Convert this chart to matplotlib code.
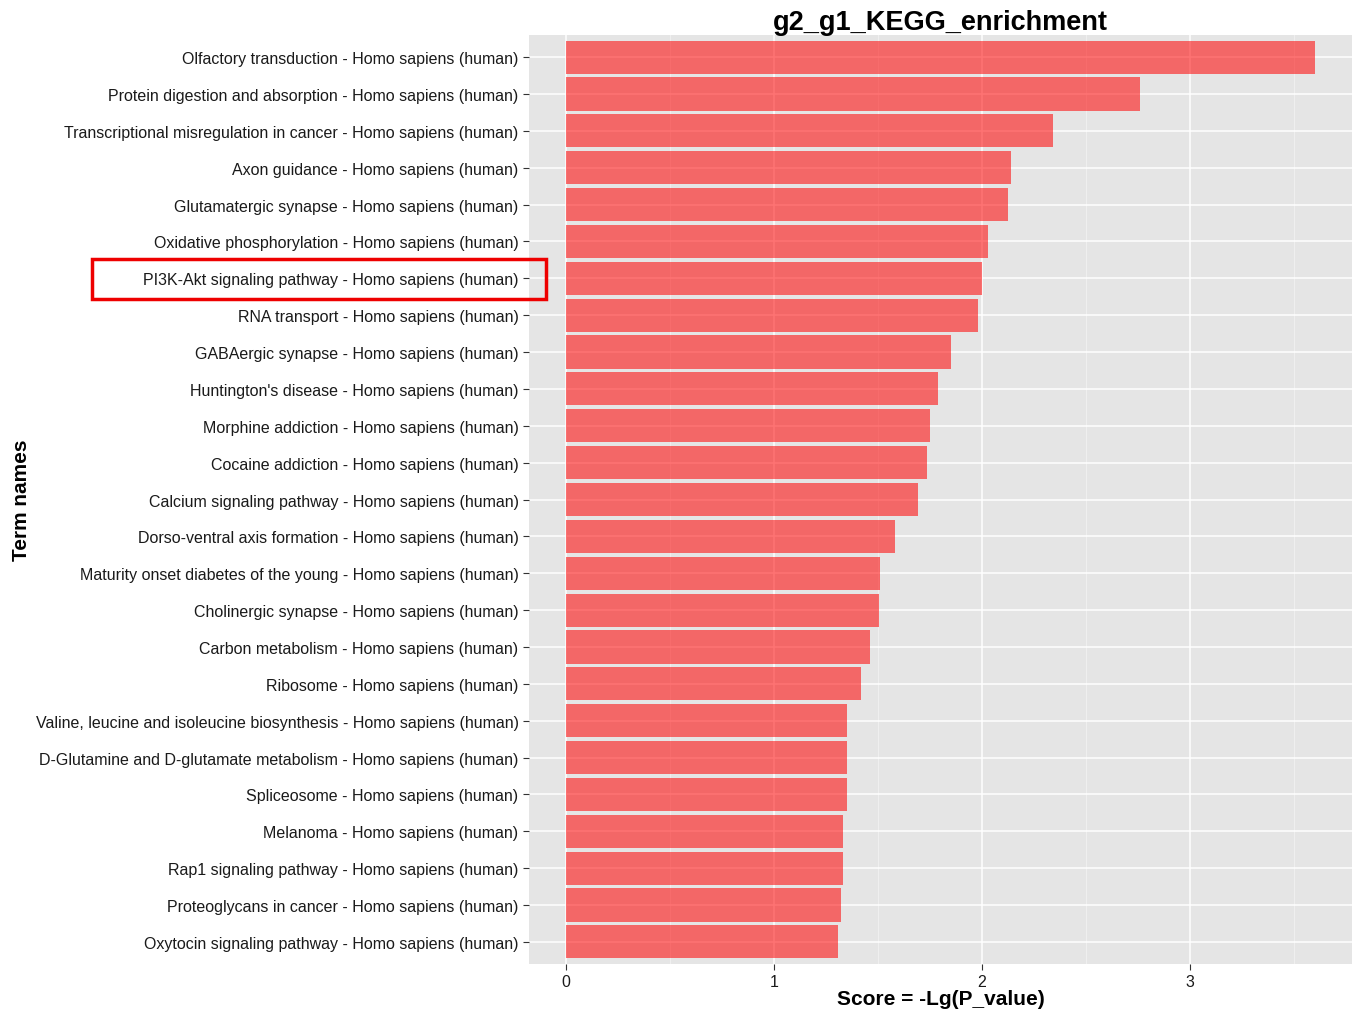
import matplotlib
matplotlib.use("Agg")
import matplotlib.pyplot as plt
from matplotlib.patches import Rectangle

terms = [
    "Olfactory transduction",
    "Protein digestion and absorption",
    "Transcriptional misregulation in cancer",
    "Axon guidance",
    "Glutamatergic synapse",
    "Oxidative phosphorylation",
    "PI3K-Akt signaling pathway",
    "RNA transport",
    "GABAergic synapse",
    "Huntington's disease",
    "Morphine addiction",
    "Cocaine addiction",
    "Calcium signaling pathway",
    "Dorso-ventral axis formation",
    "Maturity onset diabetes of the young",
    "Cholinergic synapse",
    "Carbon metabolism",
    "Ribosome",
    "Valine, leucine and isoleucine biosynthesis",
    "D-Glutamine and D-glutamate metabolism",
    "Spliceosome",
    "Melanoma",
    "Rap1 signaling pathway",
    "Proteoglycans in cancer",
    "Oxytocin signaling pathway",
]
species = " - Homo sapiens (human)"
scores = [3.60, 2.76, 2.34, 2.14, 2.125, 2.03, 2.00, 1.98, 1.85, 1.79,
          1.75, 1.735, 1.69, 1.58, 1.51, 1.505, 1.46, 1.42, 1.35, 1.35,
          1.35, 1.33, 1.33, 1.32, 1.31]
x_ticks = [0, 1, 2, 3]

plt.rcParams["font.family"] = ["Liberation Sans", "DejaVu Sans"]

W, H = 1357, 1012
fig = plt.figure(figsize=(W / 100, H / 100), dpi=100)
left, right, top, bottom = 529, 1352, 36, 965
ax = fig.add_axes([left / W, 1 - bottom / H, (right - left) / W, (bottom - top) / H])
ax.set_facecolor("#E5E5E5")

n = len(terms)
ypos = list(range(n, 0, -1))
ax.barh(ypos, scores, height=0.9, color="#FF0000", alpha=0.55, zorder=3, linewidth=0)

ax.set_xlim(-0.178, 3.779)
ax.set_ylim(0.4, n + 0.6)

ax.set_xticks(x_ticks)
ax.set_xticklabels([str(t) for t in x_ticks])
ax.set_xticks([0.5, 1.5, 2.5, 3.5], minor=True)
ax.set_yticks(ypos)
ax.set_yticklabels([t + species for t in terms])

ax.grid(True, which="major", color="white", linewidth=1.1, zorder=1)
ax.grid(True, which="minor", axis="x", color="#F2F2F2", linewidth=0.6, zorder=1)
ax.tick_params(axis="both", which="major", length=4, color="#333333", width=0.8,
               labelsize=11.55, labelcolor="#1A1A1A", pad=3.5)
ax.tick_params(axis="x", which="minor", length=0)
for s in ax.spines.values():
    s.set_visible(False)

ax.set_title("g2_g1_KEGG_enrichment", fontsize=19.5, fontweight="bold", pad=1)
ax.set_xlabel("Score = -Lg(P_value)", fontsize=15, fontweight="bold", labelpad=0)
ax.set_ylabel("Term names", fontsize=15, fontweight="bold")
ax.yaxis.set_label_coords((31 - left) / (right - left), 0.5)

# highlight box around one term label
box = Rectangle((92 / W, 1 - 300 / H), (546 - 92) / W, 40 / H, transform=fig.transFigure,
                fill=False, edgecolor="#EE0000", linewidth=2.5, zorder=10)
fig.patches.append(box)

fig.savefig("out.png", dpi=100, facecolor="white")
